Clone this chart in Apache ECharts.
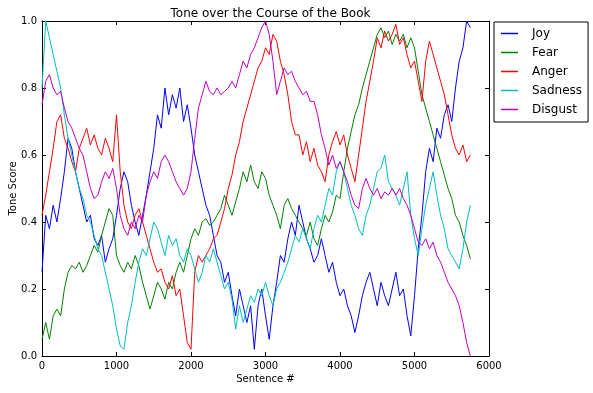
<!DOCTYPE html>
<html><head><meta charset="utf-8">
<script src="https://cdn.jsdelivr.net/npm/echarts@6/dist/echarts.min.js"></script>
<style>html,body{margin:0;padding:0;background:#fff}#c{width:593px;height:393px}</style>
</head><body><div id="c"></div>
<script>
const sentences = [0,50,100,150,200,250,300,350,400,450,500,550,600,650,700,750,800,850,900,950,1000,1050,1100,1150,1200,1250,1300,1350,1400,1450,1500,1550,1600,1650,1700,1750,1800,1850,1900,1950,2000,2050,2100,2150,2200,2250,2300,2350,2400,2450,2500,2550,2600,2650,2700,2750,2800,2850,2900,2950,3000,3050,3100,3150,3200,3250,3300,3350,3400,3450,3500,3550,3600,3650,3700,3750,3800,3850,3900,3950,4000,4050,4100,4150,4200,4250,4300,4350,4400,4450,4500,4550,4600,4650,4700,4750,4800,4850,4900,4950,5000,5050,5100,5150,5200,5250,5300,5350,5400,5450,5500,5550,5600,5650,5700,5750];
const joy = [0.25,0.42,0.38,0.45,0.40,0.47,0.55,0.65,0.62,0.55,0.50,0.45,0.40,0.42,0.35,0.33,0.36,0.28,0.32,0.35,0.42,0.50,0.55,0.52,0.45,0.40,0.36,0.42,0.48,0.55,0.62,0.72,0.68,0.80,0.72,0.78,0.74,0.80,0.70,0.75,0.68,0.60,0.55,0.50,0.45,0.42,0.36,0.30,0.28,0.22,0.25,0.18,0.12,0.20,0.15,0.10,0.15,0.02,0.15,0.20,0.12,0.05,0.15,0.22,0.30,0.28,0.35,0.40,0.36,0.45,0.40,0.35,0.32,0.28,0.30,0.35,0.30,0.25,0.28,0.22,0.18,0.20,0.15,0.12,0.07,0.12,0.18,0.22,0.25,0.20,0.15,0.22,0.18,0.15,0.20,0.25,0.18,0.20,0.12,0.06,0.18,0.32,0.42,0.55,0.62,0.58,0.68,0.65,0.72,0.75,0.70,0.80,0.88,0.92,1.0,0.98];
const fear = [0.05,0.10,0.05,0.12,0.14,0.12,0.20,0.25,0.27,0.26,0.28,0.25,0.27,0.30,0.33,0.31,0.36,0.40,0.44,0.42,0.30,0.27,0.25,0.28,0.26,0.30,0.27,0.22,0.18,0.14,0.18,0.22,0.20,0.17,0.22,0.20,0.25,0.28,0.25,0.30,0.35,0.38,0.36,0.40,0.41,0.39,0.40,0.42,0.44,0.48,0.45,0.42,0.46,0.50,0.55,0.52,0.57,0.52,0.50,0.55,0.53,0.48,0.45,0.42,0.38,0.45,0.47,0.44,0.42,0.40,0.38,0.36,0.40,0.35,0.33,0.38,0.42,0.40,0.43,0.48,0.47,0.55,0.62,0.67,0.72,0.75,0.80,0.84,0.88,0.92,0.96,0.98,0.95,0.97,0.93,0.96,0.94,0.96,0.92,0.95,0.92,0.85,0.78,0.74,0.70,0.66,0.62,0.58,0.54,0.50,0.47,0.42,0.40,0.36,0.33,0.29];
const anger = [0.42,0.48,0.55,0.62,0.70,0.72,0.65,0.62,0.58,0.55,0.62,0.65,0.68,0.63,0.66,0.62,0.60,0.65,0.62,0.58,0.72,0.55,0.45,0.40,0.38,0.42,0.44,0.40,0.36,0.32,0.28,0.25,0.26,0.22,0.20,0.24,0.18,0.20,0.12,0.04,0.02,0.25,0.30,0.28,0.30,0.32,0.35,0.36,0.40,0.44,0.50,0.54,0.60,0.64,0.70,0.74,0.78,0.82,0.86,0.88,0.92,0.90,0.96,0.94,0.88,0.84,0.78,0.70,0.66,0.66,0.60,0.64,0.58,0.62,0.57,0.55,0.52,0.60,0.64,0.67,0.63,0.66,0.60,0.56,0.52,0.60,0.68,0.76,0.82,0.88,0.95,0.92,0.97,0.94,0.96,0.99,0.93,0.95,0.90,0.86,0.88,0.82,0.76,0.88,0.94,0.90,0.86,0.82,0.78,0.72,0.66,0.62,0.60,0.63,0.58,0.60];
const sadness = [0.80,1.0,0.95,0.90,0.85,0.80,0.72,0.65,0.60,0.55,0.50,0.47,0.42,0.40,0.36,0.32,0.30,0.25,0.20,0.15,0.08,0.03,0.02,0.10,0.15,0.22,0.28,0.32,0.30,0.35,0.40,0.38,0.34,0.30,0.36,0.33,0.35,0.30,0.28,0.32,0.30,0.26,0.22,0.25,0.30,0.28,0.32,0.28,0.24,0.20,0.22,0.17,0.08,0.15,0.10,0.14,0.18,0.16,0.20,0.18,0.22,0.18,0.15,0.20,0.22,0.25,0.28,0.32,0.36,0.34,0.38,0.35,0.32,0.38,0.42,0.40,0.45,0.50,0.48,0.55,0.58,0.55,0.50,0.45,0.42,0.38,0.36,0.42,0.45,0.50,0.55,0.56,0.60,0.52,0.50,0.48,0.45,0.50,0.55,0.42,0.35,0.30,0.38,0.45,0.50,0.55,0.48,0.42,0.38,0.32,0.30,0.28,0.26,0.32,0.40,0.45];
const disgust = [0.75,0.82,0.84,0.80,0.78,0.79,0.74,0.70,0.68,0.65,0.62,0.60,0.55,0.50,0.47,0.48,0.52,0.55,0.53,0.56,0.50,0.42,0.38,0.36,0.40,0.38,0.42,0.40,0.48,0.52,0.55,0.53,0.58,0.60,0.58,0.55,0.52,0.50,0.48,0.50,0.55,0.65,0.74,0.78,0.82,0.79,0.78,0.80,0.78,0.79,0.80,0.82,0.80,0.84,0.88,0.86,0.90,0.92,0.95,0.98,1.0,0.96,0.88,0.78,0.82,0.86,0.84,0.85,0.82,0.80,0.78,0.79,0.76,0.76,0.72,0.66,0.62,0.57,0.60,0.56,0.58,0.55,0.52,0.48,0.45,0.44,0.50,0.53,0.50,0.48,0.50,0.47,0.49,0.48,0.50,0.48,0.50,0.47,0.45,0.42,0.38,0.34,0.33,0.35,0.32,0.34,0.30,0.28,0.25,0.22,0.20,0.18,0.15,0.10,0.04,0.0];
const seriesNames = ['Joy','Fear','Anger','Sadness','Disgust'];
const seriesColors = ['#0000ff','#008000','#ff0000','#00bfbf','#bf00bf'];
const xTicks = [0,1000,2000,3000,4000,5000,6000];
const yTicks = [0.0,0.2,0.4,0.6,0.8,1.0];

const values = [joy, fear, anger, sadness, disgust];
const FONT = 'DejaVu Sans';
const chart = echarts.init(document.getElementById('c'), null, {renderer:'canvas'});
const axBase = {
  axisLine:{show:true, onZero:false, lineStyle:{color:'#000', width:1}},
  axisTick:{show:true, inside:true, length:4, lineStyle:{color:'#000'}},
  splitLine:{show:false}
};
chart.setOption({
  animation:false,
  textStyle:{fontFamily:FONT},
  title:{text:'Tone over the Course of the Book', left:265.5, textAlign:'center', top:3,
    textStyle:{fontFamily:FONT, fontSize:12, fontWeight:'normal', color:'#000'}},
  legend:{orient:'vertical', left:494, top:22, icon:'rect', itemWidth:17, itemHeight:1.5,
    itemGap:0, padding:[2,6,3,7], borderColor:'#000', borderWidth:1, backgroundColor:'#fff',
    textStyle:{fontFamily:FONT, fontSize:12, color:'#000', lineHeight:19, padding:[0,0,0,9]},
    data:seriesNames},
  grid:{left:42, right:104, top:21, bottom:37, containLabel:false, outerBoundsMode:'none'},
  xAxis:[
    Object.assign({type:'value', position:'bottom', min:xTicks[0], max:xTicks[xTicks.length-1], interval:1000,
      name:'Sentence #', nameLocation:'middle', nameGap:18, nameMoveOverlap:false,
      nameTextStyle:{fontFamily:FONT, fontSize:10, color:'#000'},
      axisLabel:{fontFamily:FONT, fontSize:10, color:'#000', margin:5, formatter:v=>String(v), showMinLabel:true, showMaxLabel:true}}, axBase),
    Object.assign({type:'value', position:'top', min:xTicks[0], max:xTicks[xTicks.length-1], interval:1000,
      axisLabel:{show:false}}, axBase)
  ],
  yAxis:[
    Object.assign({type:'value', position:'left', min:yTicks[0], max:yTicks[yTicks.length-1], interval:0.2,
      name:'Tone Score', nameLocation:'middle', nameGap:24, nameMoveOverlap:false,
      nameTextStyle:{fontFamily:FONT, fontSize:10, color:'#000'},
      axisLabel:{fontFamily:FONT, fontSize:10, color:'#000', margin:5, formatter:v=>v.toFixed(1), showMinLabel:true, showMaxLabel:true}}, axBase),
    Object.assign({type:'value', position:'right', min:yTicks[0], max:yTicks[yTicks.length-1], interval:0.2,
      axisLabel:{show:false}}, axBase)
  ],
  series: seriesNames.map((n,i)=>({
    name:n, type:'line', xAxisIndex:0, yAxisIndex:0, showSymbol:false, symbol:'none',
    color:seriesColors[i], lineStyle:{width:1, color:seriesColors[i]}, clip:true,
    data: sentences.map((s,j)=>[s, values[i][j]])
  }))
});
</script></body></html>
